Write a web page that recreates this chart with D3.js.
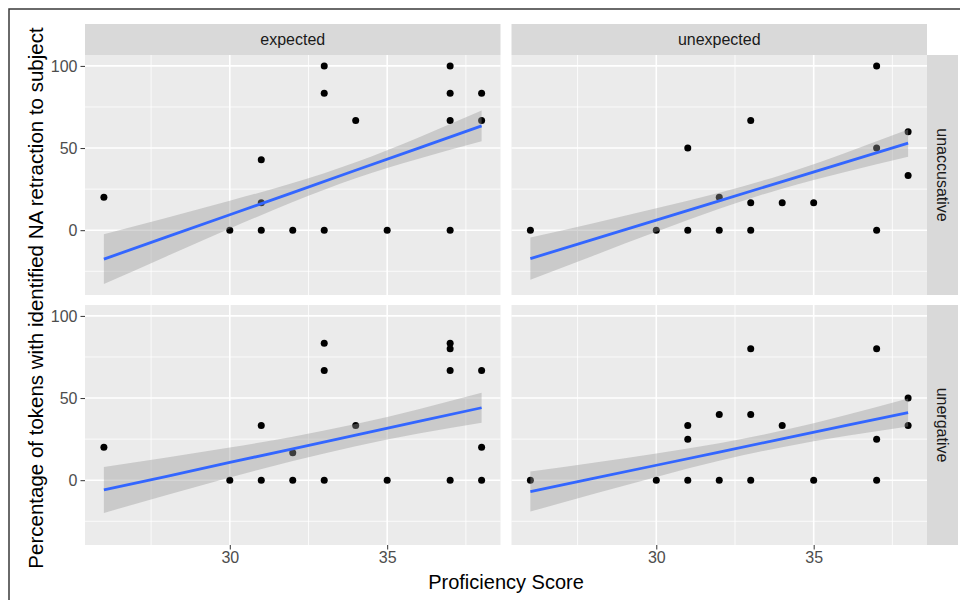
<!DOCTYPE html>
<html><head><meta charset="utf-8">
<script src="https://cdn.jsdelivr.net/npm/d3@7"></script>
<style>
body{margin:0;background:#fff}
svg{display:block}
text{font-family:"Liberation Sans",Arial,sans-serif}
</style>
</head><body>
<svg id="chart" width="960" height="600"></svg>
<script>
// ---- data ----
const colGroups = ["expected", "unexpected"];
const rowGroups = ["unaccusative", "unergative"];
const xTitle = "Proficiency Score";
const yTitle = "Percentage of tokens with identified NA retraction to subject";
const xTicks = [30, 35];
const xMinor = [27.5, 32.5, 37.5];
const yTicks = [0, 50, 100];
const yMinor = [-25, 25, 75];

// points
const expUnaccX = [26,30,31,31,31,32,33,33,33,34,35,37,37,37,37,38,38];
const expUnaccY = [20,0,42.9,16.7,0,0,100,83.3,0,66.7,0,100,83.3,66.7,0,83.3,66.7];
const unexpUnaccX = [26,30,31,31,32,32,33,33,33,34,35,37,37,37,38,38];
const unexpUnaccY = [0,0,50,0,20,0,66.7,16.7,0,16.7,16.7,100,50,0,60,33.3];
const expUnergX = [26,30,31,31,32,32,33,33,33,34,35,37,37,37,37,38,38,38];
const expUnergY = [20,0,33.3,0,16.7,0,83.3,66.7,0,33.3,0,83.3,80,66.7,0,66.7,20,0];
const unexpUnergX = [26,30,31,31,31,32,32,33,33,33,34,35,37,37,37,38,38];
const unexpUnergY = [0,0,33.3,25,0,40,0,80,40,0,33.3,0,80,25,0,50,33.3];

// smooth (lm) fit and confidence band, read at these scores
const fitX = [26,28,30,32,34,36,38];
const expUnaccFit = [-17.6,-4.1,9.4,22.9,36.5,50.0,63.5];
const expUnaccLo  = [-32.8,-15.8,1.0,17.1,31.6,43.5,54.1];
const expUnaccHi  = [-2.4,7.6,17.9,28.7,41.4,56.5,72.9];
const unexpUnaccFit = [-17.3,-5.6,6.1,17.9,29.6,41.3,53.0];
const unexpUnaccLo  = [-30.2,-15.5,-1.0,13.0,25.3,35.5,44.7];
const unexpUnaccHi  = [-4.4,4.3,13.3,22.8,33.8,47.0,61.3];
const expUnergFit = [-5.9,2.4,10.8,19.1,27.4,35.8,44.1];
const expUnergLo  = [-19.9,-9.0,1.7,11.7,20.7,28.4,35.0];
const expUnergHi  = [8.1,13.8,19.9,26.5,34.2,43.2,53.2];
const unexpUnergFit = [-6.9,1.1,9.1,17.1,25.2,33.2,41.2];
const unexpUnergLo  = [-19.1,-8.4,2.0,11.8,20.1,26.9,32.7];
const unexpUnergHi  = [5.3,10.6,16.3,22.5,30.2,39.5,49.7];

const panels = [
  {col:0,row:0,x:expUnaccX,y:expUnaccY,fit:expUnaccFit,lo:expUnaccLo,hi:expUnaccHi},
  {col:1,row:0,x:unexpUnaccX,y:unexpUnaccY,fit:unexpUnaccFit,lo:unexpUnaccLo,hi:unexpUnaccHi},
  {col:0,row:1,x:expUnergX,y:expUnergY,fit:expUnergFit,lo:expUnergLo,hi:expUnergHi},
  {col:1,row:1,x:unexpUnergX,y:unexpUnergY,fit:unexpUnergFit,lo:unexpUnergLo,hi:unexpUnergHi}
];

// ---- layout ----
const svg = d3.select("#chart");
const panelW = 415.5, panelH = 240;
const panelLeft = [85, 511.5];
const panelTop = [55, 305];
const stripH = 31, stripW = 31;

// shared scales with ggplot-like 5% expansion
const allX = panels.flatMap(p => p.x.concat(fitX));
const allY = panels.flatMap(p => p.y.concat(p.lo, p.hi));
const xe = d3.extent(allX), ye = d3.extent(allY);
const xPad = (xe[1]-xe[0])*0.05, yPad = (ye[1]-ye[0])*0.05;
const xDom = [xe[0]-xPad, xe[1]+xPad];
const yDom = [ye[0]-yPad, ye[1]+yPad];

// frame
svg.append("rect").attr("width",960).attr("height",600).attr("fill","#fff");
svg.append("path").attr("d","M9,600 V9 H960").attr("fill","none")
  .attr("stroke","#3a3a3a").attr("stroke-width",1.5);

panels.forEach(p => {
  const x0 = panelLeft[p.col], y0 = panelTop[p.row];
  const xs = d3.scaleLinear().domain(xDom).range([x0, x0+panelW]);
  const ys = d3.scaleLinear().domain(yDom).range([y0+panelH, y0]);
  const g = svg.append("g");
  g.append("rect").attr("x",x0).attr("y",y0).attr("width",panelW).attr("height",panelH).attr("fill","#EBEBEB");
  // minor grid
  g.selectAll(null).data(xMinor).join("line")
    .attr("x1",d=>xs(d)).attr("x2",d=>xs(d)).attr("y1",y0).attr("y2",y0+panelH)
    .attr("stroke","#fff").attr("stroke-width",0.8);
  g.selectAll(null).data(yMinor).join("line")
    .attr("y1",d=>ys(d)).attr("y2",d=>ys(d)).attr("x1",x0).attr("x2",x0+panelW)
    .attr("stroke","#fff").attr("stroke-width",0.8);
  // major grid
  g.selectAll(null).data(xTicks).join("line")
    .attr("x1",d=>xs(d)).attr("x2",d=>xs(d)).attr("y1",y0).attr("y2",y0+panelH)
    .attr("stroke","#fff").attr("stroke-width",1.6);
  g.selectAll(null).data(yTicks).join("line")
    .attr("y1",d=>ys(d)).attr("y2",d=>ys(d)).attr("x1",x0).attr("x2",x0+panelW)
    .attr("stroke","#fff").attr("stroke-width",1.6);

  // points
  const pts = p.x.map((v,i)=>({x:v,y:p.y[i]}));
  g.selectAll(null).data(pts).join("circle")
    .attr("cx",d=>xs(d.x)).attr("cy",d=>ys(d.y)).attr("r",3.5).attr("fill","#000");

  // band + line
  const band = fitX.map((v,i)=>({x:v,lo:p.lo[i],hi:p.hi[i]}));
  g.append("path").datum(band)
    .attr("d", d3.area().x(d=>xs(d.x)).y0(d=>ys(d.lo)).y1(d=>ys(d.hi)).curve(d3.curveNatural))
    .attr("fill","#999999").attr("fill-opacity",0.4);
  const fit = fitX.map((v,i)=>({x:v,y:p.fit[i]}));
  g.append("path").datum(fit)
    .attr("d", d3.line().x(d=>xs(d.x)).y(d=>ys(d.y)))
    .attr("fill","none").attr("stroke","#3366FF").attr("stroke-width",2.8);

  // axes
  if (p.col === 0) {
    const ax = g.append("g").attr("transform",`translate(${x0},0)`)
      .call(d3.axisLeft(ys).tickValues(yTicks).tickSize(4.5).tickPadding(3));
    ax.select(".domain").remove();
    ax.selectAll("line").attr("stroke","#333");
    ax.selectAll("text").attr("fill","#4D4D4D").style("font-size","16px")
      .style("font-family",'"Liberation Sans",Arial,sans-serif');
  }
  if (p.row === 1) {
    const ax = g.append("g").attr("transform",`translate(0,${y0+panelH})`)
      .call(d3.axisBottom(xs).tickValues(xTicks).tickSize(4.5).tickPadding(2));
    ax.select(".domain").remove();
    ax.selectAll("line").attr("stroke","#333");
    ax.selectAll("text").attr("fill","#4D4D4D").style("font-size","16px")
      .style("font-family",'"Liberation Sans",Arial,sans-serif');
  }
});

// top strips
colGroups.forEach((c,i)=>{
  const x0 = panelLeft[i];
  svg.append("rect").attr("x",x0).attr("y",panelTop[0]-stripH).attr("width",panelW).attr("height",stripH).attr("fill","#D9D9D9");
  svg.append("text").attr("x",x0+panelW/2).attr("y",panelTop[0]-stripH/2)
    .attr("text-anchor","middle").attr("dominant-baseline","central")
    .attr("fill","#1A1A1A").style("font-size","16px").text(c);
});
// right strips
rowGroups.forEach((r,i)=>{
  const x0 = panelLeft[1]+panelW, y0 = panelTop[i];
  svg.append("rect").attr("x",x0).attr("y",y0).attr("width",stripW).attr("height",panelH).attr("fill","#D9D9D9");
  svg.append("text").attr("transform",`translate(${x0+stripW/2},${y0+panelH/2}) rotate(90)`)
    .attr("text-anchor","middle").attr("dominant-baseline","central")
    .attr("fill","#1A1A1A").style("font-size","16px").text(r);
});

// titles
svg.append("text").attr("x",(panelLeft[0]+panelLeft[1]+panelW)/2).attr("y",589)
  .attr("text-anchor","middle").attr("fill","#000").style("font-size","20px").text(xTitle);
svg.append("text").attr("transform",`translate(43,${(panelTop[0]+panelTop[1]+panelH)/2 - 2}) rotate(-90)`)
  .attr("text-anchor","middle").attr("fill","#000").style("font-size","20.5px").text(yTitle);
</script>
</body></html>
